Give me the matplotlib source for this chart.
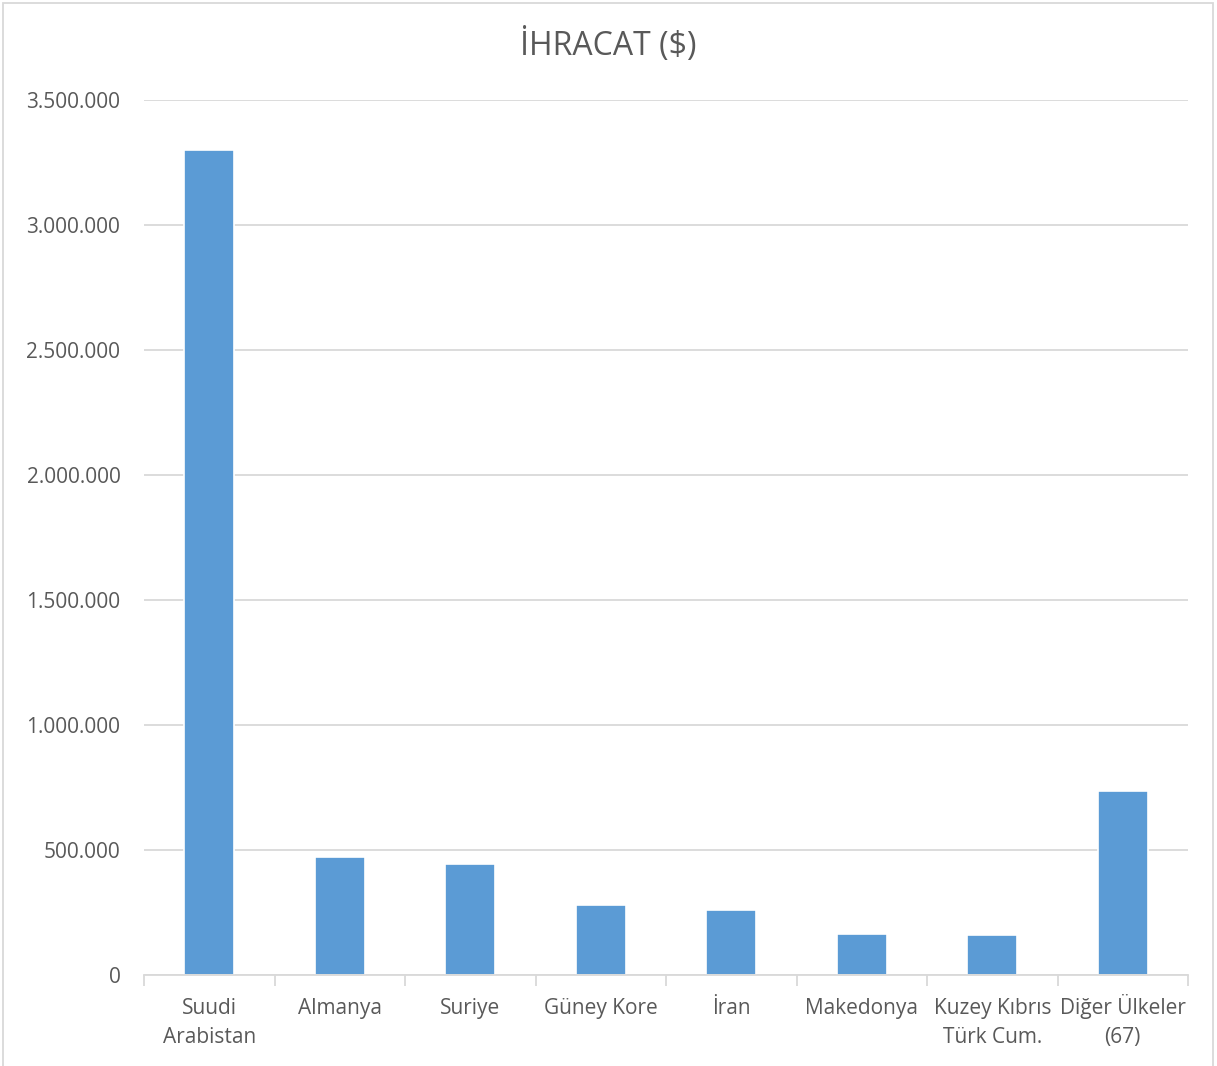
import matplotlib
matplotlib.use("Agg")
import matplotlib.pyplot as plt
from matplotlib.patches import Rectangle
from matplotlib.ticker import FuncFormatter, FixedLocator

categories = ["Suudi\nArabistan", "Almanya", "Suriye", "Güney Kore", "İran",
              "Makedonya", "Kuzey Kıbrıs\nTürk Cum.", "Diğer Ülkeler\n(67)"]
values = [3302000, 473000, 446000, 279000, 262000, 163000, 159000, 735000]
yticks = [0, 500000, 1000000, 1500000, 2000000, 2500000, 3000000, 3500000]
title = "İHRACAT ($)"

plt.rcParams['font.family'] = ['Open Sans', 'DejaVu Sans']
text_color = "#595959"
grid_color = "#D9D9D9"
bar_color = "#5B9BD5"

fig = plt.figure(figsize=(12.17, 10.66), dpi=100)
ax = fig.add_axes([144/1217, 1-975/1066, (1188-144)/1217, (975-100)/1066])

x = list(range(len(categories)))
ax.bar(x, values, width=0.38, color=bar_color, edgecolor='white', linewidth=1.2, zorder=3)

ax.set_xlim(-0.5, len(categories)-0.5)
ax.set_ylim(0, 3500000)
ax.set_yticks(yticks)
ax.yaxis.set_major_formatter(FuncFormatter(lambda v, p: f"{int(v):,}".replace(",", ".")))
ax.grid(axis='y', color=grid_color, linewidth=1.3, zorder=0)
ax.set_axisbelow(True)

ax.set_xticks(x)
ax.set_xticklabels([])
ax.xaxis.set_minor_locator(FixedLocator([i-0.5 for i in range(len(categories)+1)]))
ax.tick_params(axis='x', which='major', length=0)
ax.tick_params(axis='x', which='minor', length=8, color=grid_color, width=1.3)
ax.tick_params(axis='y', length=0, pad=17, labelsize=15, labelcolor=text_color)

for i, lab in enumerate(categories):
    for j, line in enumerate(lab.split("\n")):
        ax.annotate(line, xy=(i, 0), xycoords=('data', 'axes fraction'),
                    xytext=(0, -39 - 29*j), textcoords='offset pixels',
                    ha='center', va='baseline', fontsize=15, color=text_color,
                    annotation_clip=False)

for s in ['top', 'right', 'left']:
    ax.spines[s].set_visible(False)
ax.spines['bottom'].set_color(grid_color)
ax.spines['bottom'].set_linewidth(1.3)
ax.spines['bottom'].set_zorder(4)

fig.text(0.5, 1-45/1066, title, ha='center', va='center', fontsize=23, color=text_color)

fig.patches.append(Rectangle((3/1217, -0.01), 1210/1217, 1-3/1066+0.01, transform=fig.transFigure,
                             fill=False, edgecolor="#D9D9D9", linewidth=1.3))

fig.savefig("out.png", dpi=100)
